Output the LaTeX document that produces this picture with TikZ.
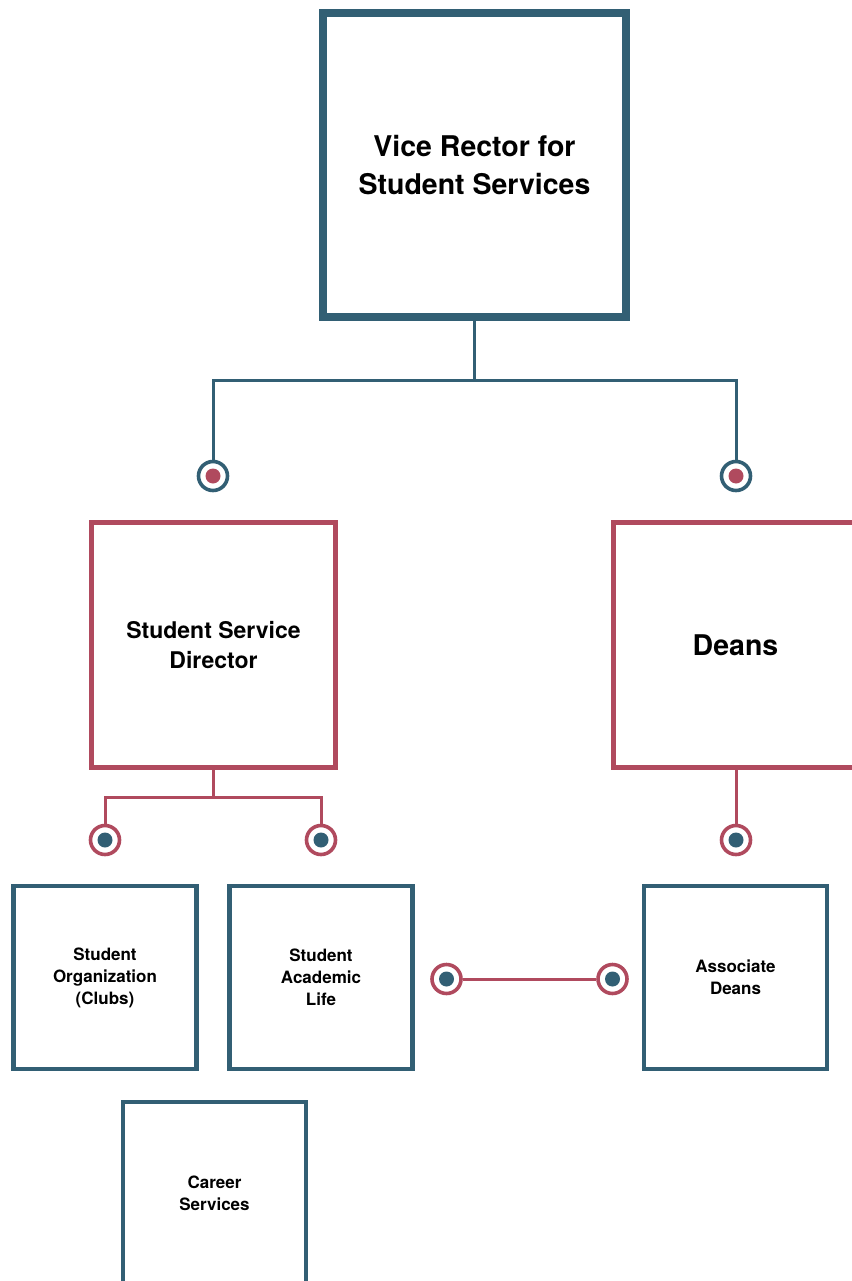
\documentclass[tikz,border=0pt]{standalone}
\usepackage{fontspec}
\setmainfont{TeX Gyre Heros}
\definecolor{rectorblue}{HTML}{325F74}
\definecolor{deanred}{HTML}{B04A5E}
\tikzset{
  unitbox/.style={draw, fill=white, align=center, inner sep=0pt},
  bigfont/.style={font=\bfseries\fontsize{28.5}{38}\selectfont},
  midfont/.style={font=\bfseries\fontsize{23}{30}\selectfont},
  smallfont/.style={font=\bfseries\fontsize{17}{22}\selectfont},
  bluebox/.style={unitbox, draw=rectorblue},
  redbox/.style={unitbox, draw=deanred},
  smallbox/.style={bluebox, line width=4.3pt, minimum width=183pt, minimum height=183pt, smallfont},
  bluelink/.style={draw=rectorblue, line width=3pt},
  redlink/.style={draw=deanred, line width=3pt},
  port/.style={circle, fill=white, line width=3.6pt, minimum size=29pt, inner sep=0pt},
  redport/.style={port, draw=rectorblue,
    path picture={\fill[deanred] (path picture bounding box.center) circle (7.5pt);}},
  blueport/.style={port, draw=deanred,
    path picture={\fill[rectorblue] (path picture bounding box.center) circle (7.5pt);}}
}
\begin{document}
\begin{tikzpicture}[x=1pt, y=-1pt]
  \useasboundingbox (0,0) rectangle (851,1281);

  % top level
  \node[bluebox, line width=8pt, minimum width=303pt, minimum height=304pt, bigfont] (vr) at (474.5,165) {Vice Rector for\\Student Services};

  % second level
  \node[redport] (ssdport) at (213,476) {};
  \node[redport] (deansport) at (736,476) {};
  \node[redbox, line width=5.3pt, minimum width=244pt, minimum height=245pt, midfont] (ssd) at (213.5,645) {Student Service\\Director};
  \node[redbox, line width=5.3pt, minimum width=244pt, minimum height=245pt, bigfont] (deans) at (735.5,645) {Deans};

  \coordinate (vrjoin) at (474.5,380);
  \draw[bluelink] (vr.south) -- (vrjoin) -| (ssdport.north);
  \draw[bluelink] (vrjoin) -| (deansport.north);

  % third level
  \node[blueport] (clubsport) at (105,840) {};
  \node[blueport] (lifeport) at (321,840) {};
  \node[blueport] (assocport) at (736,840) {};
  \node[smallbox] (clubs) at (105,977.5) {Student\\Organization\\(Clubs)};
  \node[smallbox] (life) at (321,977.5) {Student\\Academic\\Life};
  \node[smallbox] (assoc) at (735.5,977.5) {Associate\\Deans};
  \node[smallbox] (career) at (214.5,1193.5) {Career\\Services};

  \coordinate (ssdjoin) at (213.5,797);
  \draw[redlink] (ssd.south) -- (ssdjoin) -| (clubsport.north);
  \draw[redlink] (ssdjoin) -| (lifeport.north);
  \draw[redlink] (deans.south -| assocport) -- (assocport.north);

  % link between life and associate deans
  \node[blueport] (lifelink) at (446.5,979) {};
  \node[blueport] (assoclink) at (612.5,979) {};
  \draw[redlink] (lifelink.east) -- (assoclink.west);
\end{tikzpicture}
\end{document}
